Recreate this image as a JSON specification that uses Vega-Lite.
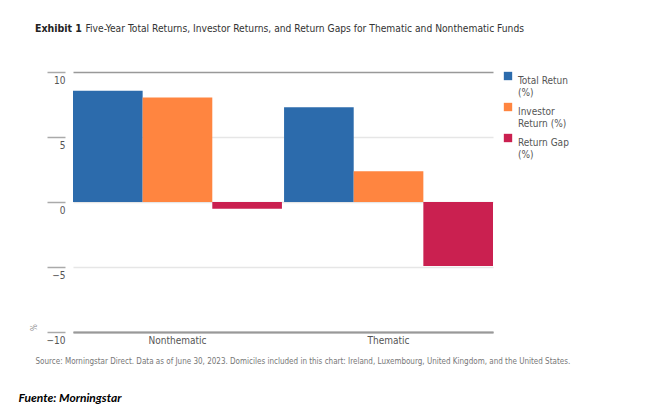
{
  "$schema": "https://vega.github.io/schema/vega-lite/v6.json",
  "autosize": "none",
  "width": 420,
  "height": 260,
  "padding": {"left": 73, "top": 72, "right": 175, "bottom": 86},
  "background": "white",
  "config": {
    "font": "Liberation Sans Narrow, DejaVu Sans Condensed, Liberation Sans, sans-serif",
    "view": {"stroke": null}
  },
  "title": {
    "text": "Exhibit 1",
    "anchor": "start",
    "frame": "group",
    "dx": -38,
    "offset": -11,
    "fontSize": 10.5,
    "fontWeight": "bold",
    "color": "#222222"
  },
  "data": {
    "values": [
      {"Category": "Nonthematic", "Series": "Total Retun (%)", "Value": 8.55},
      {"Category": "Nonthematic", "Series": "Investor Return (%)", "Value": 8.03},
      {"Category": "Nonthematic", "Series": "Return Gap (%)", "Value": -0.52},
      {"Category": "Thematic", "Series": "Total Retun (%)", "Value": 7.28},
      {"Category": "Thematic", "Series": "Investor Return (%)", "Value": 2.36},
      {"Category": "Thematic", "Series": "Return Gap (%)", "Value": -4.92}
    ]
  },
  "layer": [
    {
      "mark": {"type": "bar"},
      "encoding": {
        "x": {
          "field": "Category",
          "type": "nominal",
          "scale": {"paddingInner": 0.01, "paddingOuter": 0},
          "axis": {
            "labelAngle": 0,
            "labelFontSize": 10,
            "labelColor": "#555555",
            "labelPadding": 3,
            "ticks": false,
            "domainColor": "#999999",
            "domainWidth": 2,
            "title": "Source: Morningstar Direct. Data as of June 30, 2023. Domiciles included in this chart: Ireland, Luxembourg, United Kingdom, and the United States.",
            "titleX": -38,
            "titleY": 29,
            "titleAlign": "left",
            "titleAnchor": "start",
            "titleBaseline": "middle",
            "titleFontSize": 8,
            "titleFontWeight": "normal",
            "titleColor": "#777777"
          }
        },
        "xOffset": {
          "field": "Series",
          "type": "nominal",
          "sort": ["Total Retun (%)", "Investor Return (%)", "Return Gap (%)"],
          "scale": {"paddingInner": 0, "paddingOuter": 0}
        },
        "y": {
          "field": "Value",
          "type": "quantitative",
          "scale": {"domain": [-10, 10], "nice": false},
          "axis": {
            "values": [-10, -5, 0, 5, 10],
            "offset": 8,
            "tickSize": 18,
            "tickColor": "#aaaaaa",
            "tickWidth": 1.5,
            "domain": false,
            "grid": true,
            "gridColor": {"condition": {"test": "abs(datum.value) == 10", "value": "#999999"}, "value": "#e6e6e6"},
            "gridWidth": 1.5,
            "labelAlign": "right",
            "labelBaseline": "top",
            "labelPadding": -18,
            "labelOffset": 3,
            "labelFontSize": 10,
            "labelColor": "#555555",
            "title": "%",
            "titleAngle": -90,
            "titleX": -27,
            "titleY": 255,
            "titleFontSize": 8,
            "titleFontWeight": "normal",
            "titleColor": "#888888"
          }
        },
        "color": {
          "field": "Series",
          "type": "nominal",
          "sort": ["Total Retun (%)", "Investor Return (%)", "Return Gap (%)"],
          "scale": {"range": ["#2c6bac", "#ff8540", "#ca2050"]},
          "legend": {
            "orient": "none",
            "legendX": 430,
            "legendY": -1,
            "title": null,
            "symbolType": "square",
            "symbolSize": 70,
            "symbolStrokeWidth": 0,
            "labelFontSize": 10,
            "labelColor": "#555555",
            "labelBaseline": "top",
            "labelOffset": 5,
            "rowPadding": 4,
            "labelExpr": "datum.label == 'Total Retun (%)' ? ['Total Retun', '(%)'] : datum.label == 'Investor Return (%)' ? ['Investor', 'Return (%)'] : ['Return Gap', '(%)']"
          }
        }
      }
    },
    {
      "mark": {"type": "rule", "strokeOpacity": 0},
      "encoding": {
        "x": {
          "datum": "Nonthematic",
          "type": "nominal",
          "axis": {
            "orient": "top",
            "labels": false,
            "ticks": false,
            "domain": false,
            "grid": false,
            "title": "Five-Year Total Returns, Investor Returns, and Return Gaps for Thematic and Nonthematic Funds",
            "titleX": 12,
            "titleY": -44,
            "titleAlign": "left",
            "titleAnchor": "start",
            "titleBaseline": "middle",
            "titleFontSize": 10.2,
            "titleFontWeight": "normal",
            "titleColor": "#333333"
          }
        },
        "y": {
          "datum": 0,
          "type": "quantitative",
          "axis": {
            "orient": "right",
            "labels": false,
            "ticks": false,
            "domain": false,
            "grid": false,
            "title": "Fuente: Morningstar",
            "titleAngle": 0,
            "titleX": -475,
            "titleY": 325,
            "titleAlign": "left",
            "titleBaseline": "middle",
            "titleFont": "Lato, Open Sans, sans-serif",
            "titleFontSize": 12,
            "titleFontWeight": "bold",
            "titleFontStyle": "italic",
            "titleColor": "#000000"
          }
        }
      }
    }
  ],
  "resolve": {"axis": {"y": "independent", "x": "independent"}}
}
